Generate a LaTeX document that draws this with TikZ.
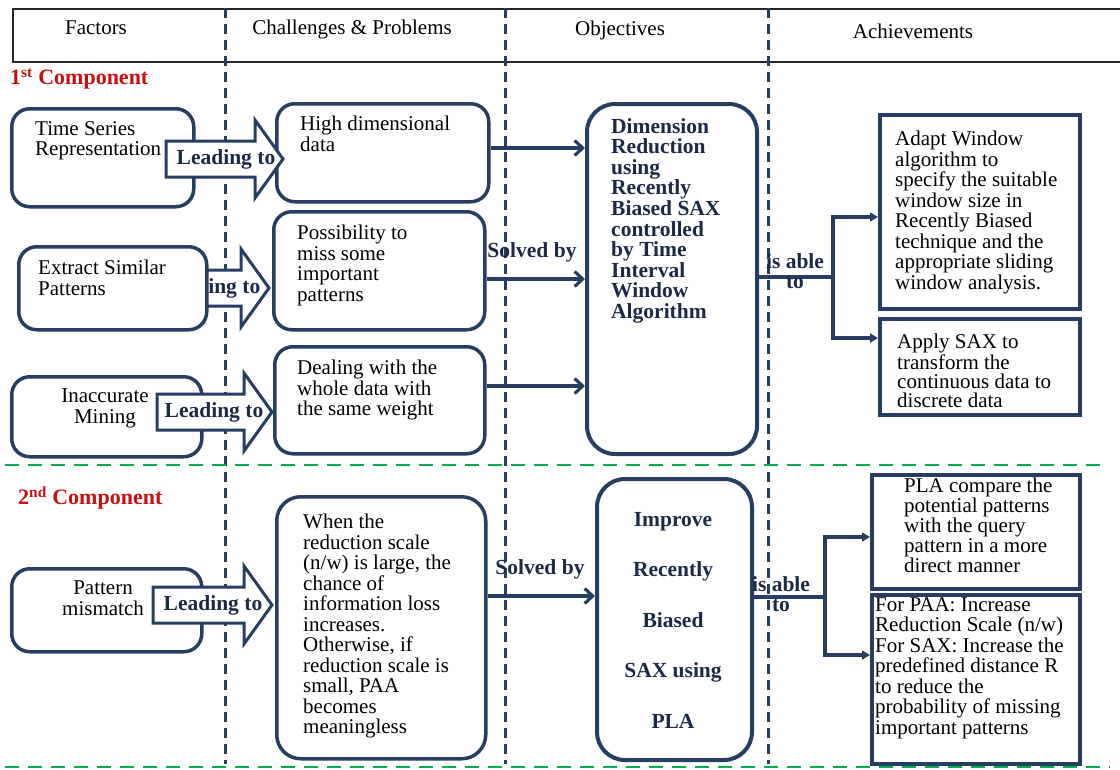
\documentclass[tikz,border=0pt]{standalone}
\usepackage{fontspec}
\setmainfont{Liberation Serif}
\usepackage{xcolor}
\usepackage{tikz}
\usetikzlibrary{arrows.meta, calc}

\definecolor{boxblue}{RGB}{38,62,98}
\definecolor{textnavy}{RGB}{28,42,72}
\definecolor{compred}{RGB}{200,16,16}
\definecolor{sepgreen}{RGB}{0,176,80}

\newcommand{\leadarrow}[2]{%
  \draw[bigarrow] (#1) -- ++(-28,-39) -- ++(0,21) -- ++(-#2+28,0) -- ++(0,36)
    -- ++(#2-28,0) -- ++(0,21) -- cycle;}

\begin{document}
\begin{tikzpicture}[x=1pt,y=-1pt,
    every node/.style={inner sep=0pt},
    factor/.style={draw=boxblue, line width=3.5pt, rounded corners=18pt, fill=white, anchor=north west},
    objbox/.style={draw=boxblue, line width=4pt, rounded corners=28pt, fill=white, anchor=north west},
    achbox/.style={draw=boxblue, line width=4pt, fill=white, anchor=north west},
    txt/.style={anchor=north west, align=left, font=\fontsize{21}{20.5}\selectfont},
    boldtxt/.style={anchor=north west, align=left, text=textnavy, font=\fontsize{21.5}{20.6}\selectfont\bfseries},
    lbl/.style={text=textnavy, font=\fontsize{21.5}{20.5}\selectfont\bfseries},
    hdr/.style={font=\fontsize{21}{20.5}\selectfont},
    comp/.style={anchor=west, text=compred, font=\fontsize{22}{22}\selectfont\bfseries},
    bigarrow/.style={draw=boxblue, line width=3pt, fill=white, line join=miter},
    link/.style={draw=boxblue, line width=3.2pt, -{Straight Barb[length=8pt,width=15pt]}},
    branch/.style={draw=boxblue, line width=3.2pt},
    achlink/.style={draw=boxblue, line width=3.2pt, -{Triangle[length=8pt,width=9pt]}},
    colsep/.style={draw=boxblue, line width=3pt, dash pattern=on 10pt off 6pt},
    rowsep/.style={draw=sepgreen, line width=2.8pt, dash pattern=on 14pt off 9pt}]

    \useasboundingbox (0,0) rectangle (1120,769);

    \node[draw=black!85, line width=1.8pt, minimum width=1115pt, minimum height=53pt, anchor=north west] (header) at (12,8) {};
    \node[hdr] (hfactors) at (96,28) {Factors};
    \node[hdr] (hchallenges) at (352,29) {Challenges \& Problems};
    \node[hdr] (hobjectives) at (620,30) {Objectives};
    \node[hdr] (hachievements) at (913,31) {Achievements};

    \foreach \x in {225,505,768}
        \draw[colsep] (\x,8) -- (\x,764);
    \draw[rowsep] (5,465) -- (1106,465);
    \draw[rowsep] (5,767) -- (1110,767);

    \node[comp] (comp1) at (10,79) {1\textsuperscript{st} Component};
    \node[comp] (comp2) at (18,498) {2\textsuperscript{nd} Component};

    \coordinate (tip1) at (283,159);
    \coordinate (tip2) at (269,288);
    \coordinate (tip3) at (272,412);
    \coordinate (tip4) at (272,605);

    \leadarrow{tip2}{117}
    \node[lbl] (lead2) at ($(tip2)+(-58,0)$) {Leading to};

    \node[factor, minimum width=182pt, minimum height=98pt] (fac1) at (10,107) {};
    \node[factor, minimum width=188pt, minimum height=83pt] (fac2) at (17,245) {};
    \node[factor, minimum width=190pt, minimum height=80pt] (fac3) at (10,375) {};
    \node[factor, minimum width=190pt, minimum height=83pt] (fac4) at (10,567) {};
    \node[txt] (fac1t) at (35,121) {Time Series\\Representation};
    \node[txt] (fac2t) at (38,260) {Extract Similar\\Patterns};
    \node[txt, anchor=north, align=center] (fac3t) at (105,389) {Inaccurate\\Mining};
    \node[txt, anchor=north, align=center] (fac4t) at (103,581) {Pattern\\mismatch};

    \node[factor, minimum width=212pt, minimum height=98pt] (chal1) at (275,102) {};
    \node[factor, minimum width=211pt, minimum height=118pt] (chal2) at (272,210) {};
    \node[factor, minimum width=210pt, minimum height=107pt] (chal3) at (273,345) {};
    \node[factor, rounded corners=24pt, minimum width=209pt, minimum height=262pt] (chal4) at (275,495) {};
    \node[txt] (chal1t) at (300,116) {High dimensional\\data};
    \node[txt] (chal2t) at (297,225) {Possibility to\\miss some\\important\\patterns};
    \node[txt] (chal3t) at (297,360) {Dealing with the\\whole data with\\the same weight};
    \node[txt] (chal4t) at (303,514) {When the\\reduction scale\\(n/w) is large, the\\chance of\\information loss\\increases.\\Otherwise, if\\reduction scale is\\small, PAA\\becomes\\meaningless};

    \leadarrow{tip1}{117}
    \node[lbl] (lead1) at ($(tip1)+(-57,0)$) {Leading to};
    \leadarrow{tip3}{115}
    \node[lbl] (lead3) at ($(tip3)+(-58,0)$) {Leading to};
    \leadarrow{tip4}{119}
    \node[lbl] (lead4) at ($(tip4)+(-59,0)$) {Leading to};

    \node[objbox, minimum width=170pt, minimum height=350pt] (obj1) at (585,102) {};
    \node[objbox, minimum width=155pt, minimum height=281pt] (obj2) at (595,477) {};
    \node[boldtxt] (obj1t) at (611,118) {Dimension\\Reduction\\using\\Recently\\Biased SAX\\controlled\\by Time\\Interval\\Window\\Algorithm};
    \node[boldtxt, anchor=north, align=center, font=\fontsize{21.5}{50.5}\selectfont\bfseries] (obj2t) at (673,512) {Improve\\Recently\\Biased\\SAX using\\PLA};

    \draw[link] (chal1.east |- 0,148) -- (obj1.west |- 0,148);
    \draw[link] (chal2.east |- 0,279) -- (obj1.west |- 0,279);
    \draw[link] (chal3.east |- 0,386) -- (obj1.west |- 0,386);
    \draw[link] (chal4.east |- 0,596) -- (obj2.west |- 0,596);
    \node[lbl] (solved1) at (532,252) {Solved by};
    \node[lbl] (solved2) at (540,569) {Solved by};

    \node[achbox, minimum width=200pt, minimum height=194pt] (ach1) at (878,113) {};
    \node[achbox, minimum width=200pt, minimum height=96pt] (ach2) at (878,317) {};
    \node[achbox, minimum width=208pt, minimum height=114pt] (ach3) at (870,473) {};
    \node[achbox, minimum width=208pt, minimum height=169pt] (ach4) at (870,593) {};
    \node[txt] (ach1t) at (895,131) {Adapt Window\\algorithm to\\specify the suitable\\window size in\\Recently Biased\\technique and the\\appropriate sliding\\window analysis.};
    \node[txt, font=\fontsize{21}{19}\selectfont] (ach2t) at (897,334) {Apply SAX to\\transform the\\continuous data to\\discrete data};
    \node[txt, font=\fontsize{21}{20}\selectfont] (ach3t) at (904,478) {PLA compare the\\potential patterns\\with the query\\pattern in a more\\direct manner};
    \node[txt] (ach4t) at (875,597) {For PAA: Increase\\Reduction Scale (n/w)\\For SAX: Increase the\\predefined distance R\\to reduce the\\probability of missing\\important patterns};

    \coordinate (br1) at (833,277);
    \coordinate (br2) at (825,597);
    \draw[branch] (obj1.east |- br1) -- (br1);
    \draw[achlink] (br1) |- (ach1.west |- 0,217);
    \draw[achlink] (br1) |- (ach2.west |- 0,338);
    \draw[branch] (obj2.east |- br2) -- (br2);
    \draw[achlink] (br2) |- (ach3.west |- 0,537);
    \draw[achlink] (br2) |- (ach4.west |- 0,655);
    \node[lbl, align=center] (able1) at (795,271) {is able\\to};
    \node[lbl, align=center] (able2) at (781,594) {is able\\to};
\end{tikzpicture}
\end{document}
